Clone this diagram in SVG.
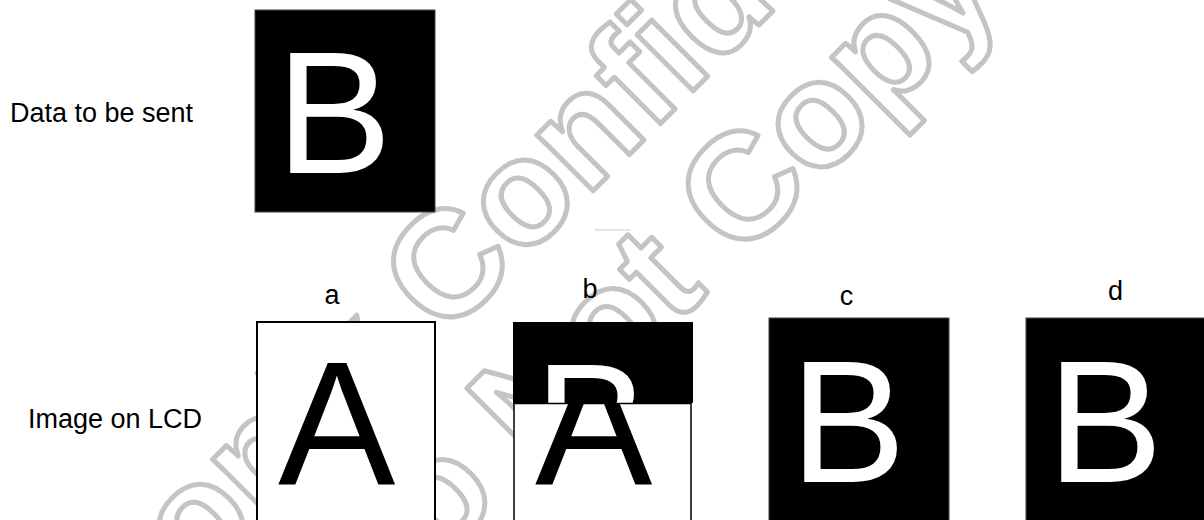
<svg xmlns="http://www.w3.org/2000/svg" width="1204" height="520" viewBox="0 0 1204 520">
<style>
.lbl{font-family:"Liberation Sans",Arial,sans-serif;font-size:27px;fill:#000}
.big{font-family:"Liberation Sans",Arial,sans-serif}
.wm{font-family:"Liberation Sans",Arial,sans-serif;font-weight:bold;font-size:150px;fill:none;stroke:#c4c4c4;stroke-width:5;stroke-linejoin:round}
</style>
<defs>
<clipPath id="clipTop"><rect x="513" y="322" width="180" height="81"/></clipPath>
<clipPath id="clipBot"><rect x="513" y="403" width="180" height="130"/></clipPath>
</defs>
<rect width="1204" height="520" fill="#fff"/>
<g id="watermark">
<text class="wm" x="20" y="764" transform="rotate(-45 20 764)">Sitronix Confidential</text>
<text class="wm" x="362" y="639" transform="rotate(-45 362 639)">Do Not Copy</text>
<text x="595" y="231" style="font-family:'Liberation Sans',sans-serif;font-size:2.8px;fill:#bbb">http://www.datasheet4u.com</text>
</g>
<g id="label-data">
<text class="lbl" x="10" y="122">Data to be sent</text>
</g>
<g id="label-image">
<text class="lbl" x="28" y="428">Image on LCD</text>
</g>
<g id="data-box">
<rect x="255" y="10" width="180" height="202" fill="#000" stroke="#444" stroke-width="1"/>
<text class="big" x="276" y="173" font-size="174" fill="#fff">B</text>
</g>
<g id="frame-a">
<text class="lbl" x="332" y="304" text-anchor="middle">a</text>
<rect x="257" y="322" width="178" height="215" fill="#fff" stroke="#000" stroke-width="2"/>
<text class="big" x="278" y="485" font-size="176" fill="#000">A</text>
</g>
<g id="frame-b">
<text class="lbl" x="590" y="298" text-anchor="middle">b</text>
<g clip-path="url(#clipTop)">
<rect x="513" y="322" width="180" height="82" fill="#000"/>
<text class="big" x="534" y="485" font-size="174" fill="#fff">B</text>
</g>
<rect x="514" y="403.5" width="177" height="130" fill="#fff" stroke="#000" stroke-width="1.5"/>
<g clip-path="url(#clipBot)">
<text class="big" x="535" y="485" font-size="176" fill="#000">A</text>
</g>
</g>
<g id="frame-c">
<text class="lbl" x="846.5" y="305" text-anchor="middle">c</text>
<rect x="769" y="318" width="180" height="215" fill="#000" stroke="#444" stroke-width="1"/>
<text class="big" x="790" y="482" font-size="174" fill="#fff">B</text>
</g>
<g id="frame-d">
<text class="lbl" x="1115.5" y="300" text-anchor="middle">d</text>
<rect x="1026" y="318" width="180" height="215" fill="#000" stroke="#444" stroke-width="1"/>
<text class="big" x="1047" y="482" font-size="174" fill="#fff">B</text>
</g>
<g id="connectors"></g>
</svg>
